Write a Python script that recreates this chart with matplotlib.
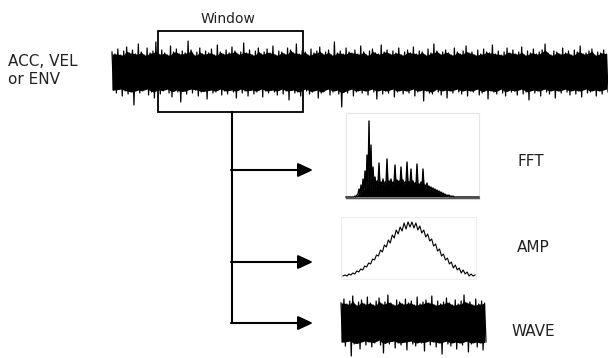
import numpy as np
import matplotlib.pyplot as plt
from matplotlib.patches import Rectangle

# Main time signal: peak (upward) and trough (downward) sizes, interleaved
main_top = [20, 18, 23, 17, 21, 25, 19, 22, 18, 28, 20, 17, 24, 19, 21, 30, 18,
            22, 19, 17, 26, 20, 23, 18, 21, 19, 31, 22, 17, 20, 24, 18, 21, 19,
            23, 17, 27, 20, 18, 22, 19, 25, 21, 18, 20, 29, 19, 22, 17, 21, 24,
            18, 20, 23, 19, 26, 17, 21, 20, 18, 24, 22, 19, 28, 18, 21, 20, 17,
            23, 19, 21, 25, 18, 20, 22, 17, 30, 19, 21, 18, 24, 20, 19, 22, 18,
            26, 20, 17, 21, 23, 19, 18, 27, 20, 22, 18, 21, 19, 24, 17, 20, 22,
            19, 25, 18, 21, 20, 17, 23, 19, 28, 21, 18, 20, 22, 19, 17, 24, 20,
            18, 21, 26, 19, 20, 17, 22, 18, 23, 20, 19, 27, 18, 21, 17, 20, 24,
            19, 22, 18, 20, 25, 17, 21, 19, 23, 18, 20, 22, 28, 19, 17, 21, 20,
            18, 24, 19, 21, 17, 22, 20, 26, 18, 19, 21, 23, 17, 20, 19, 22, 18]
main_bot = [18, 21, 17, 24, 19, 22, 20, 33, 18, 21, 19, 17, 23, 20, 26, 18, 22,
            19, 17, 21, 25, 18, 20, 30, 19, 22, 17, 21, 18, 24, 20, 19, 27, 18,
            21, 20, 17, 23, 19, 22, 18, 20, 26, 17, 21, 19, 24, 18, 22, 20, 17,
            25, 19, 21, 18, 20, 23, 17, 22, 19, 28, 18, 21, 20, 24, 17, 19, 22,
            20, 18, 26, 21, 19, 17, 23, 20, 18, 22, 35, 19, 21, 17, 24, 20, 18,
            21, 19, 23, 17, 20, 27, 18, 22, 19, 21, 17, 25, 20, 18, 22, 19, 21,
            17, 24, 20, 18, 29, 19, 21, 22, 17, 20, 23, 18, 26, 19, 21, 17, 20,
            22, 18, 24, 19, 20, 17, 23, 21, 18, 27, 19, 20, 22, 17, 21, 24, 18,
            20, 19, 23, 17, 22, 20, 28, 18, 21, 19, 24, 17, 20, 22, 18, 26, 19,
            21, 17, 20, 23, 18, 22, 19, 25, 17, 21, 20, 18, 24, 19, 22, 17, 20]

# Window wave (small copy of the signal)
wave_top = [20, 24, 19, 22, 27, 18, 21, 23, 19, 26, 20, 18, 22, 25, 19, 21, 28, 20, 18, 23,
            21, 19, 24, 20, 22, 18, 26, 19, 21, 23, 20, 27, 18, 22, 19, 21, 25, 20, 18, 23,
            19, 22, 28, 20, 21, 18, 24, 19, 22, 20]
wave_bot = [19, 23, 18, 33, 21, 20, 26, 18, 22, 19, 24, 20, 17, 22, 30, 19, 21, 18, 25, 20,
            22, 19, 27, 18, 21, 23, 19, 20, 28, 18, 22, 19, 24, 20, 31, 18, 21, 23, 19, 26,
            20, 22, 18, 29, 21, 19, 24, 20, 27, 19]

# FFT spectrum magnitude
fft_vals = [0, 0, 0, 0, 0, 0, 0, 0, 0, 1, 0, 2,
            3, 8, 2, 12, 4, 18, 5, 26,
            6, 42, 10, 76, 8, 52, 6, 30,
            12, 20, 11, 16, 13, 34, 10, 15, 12, 18, 11, 15,
            13, 38, 12, 16, 14, 18, 11, 15, 13, 32, 12, 17, 14, 16, 11, 30, 13, 17, 12, 15,
            14, 35, 12, 15, 13, 28, 11, 16, 12, 14, 11, 33, 10, 13, 11, 15, 9, 28, 10, 12,
            9, 14, 8, 11, 8, 10, 7, 9, 6, 8, 5, 7, 5, 6, 4, 5, 3, 4, 2, 3,
            1, 2, 1, 2, 0, 1, 0, 1, 0, 0, 0, 0, 0, 0, 0, 0, 0, 0, 0, 0,
            0, 0, 0, 0, 0, 0, 0, 0, 0, 0, 0, 0, 0, 0]

# Amplitude (bell shaped, noisy)
amp_vals = [1, 2, 1, 3, 2, 4, 3, 6, 5, 8, 7, 11, 10, 14, 13, 18, 17, 22, 21, 27,
            25, 32, 30, 37, 34, 42, 39, 47, 43, 50, 46, 54, 48, 55, 50,
            55, 49, 54, 47, 51, 44, 47, 40, 43, 36, 38, 31, 33, 26, 28, 21, 23,
            17, 19, 13, 15, 9, 12, 7, 9, 4, 7, 3, 5, 1, 3, 1, 2]


def draw_band(x0, x1, yc, top, bot, lw=0.9):
    # solid core (lower of neighbouring peaks) with the trace on top for the spikes
    n = min(len(top), len(bot))
    t = np.array(top[:n], dtype=float)
    b = np.array(bot[:n], dtype=float)
    xs = np.linspace(x0, x1, 2 * n)
    xt, xb = xs[0::2], xs[1::2]
    t_core = np.minimum(t, np.roll(t, 1))
    b_core = np.minimum(b, np.roll(b, 1))
    ax.fill_between(xt, yc - t_core, yc + np.interp(xt, xb, b_core), color='black', lw=0)
    y = np.empty(2 * n)
    y[0::2] = yc - t
    y[1::2] = yc + b
    ax.plot(xs, y, color='black', lw=lw)


fig = plt.figure(figsize=(6.08, 3.58), dpi=100)
ax = fig.add_axes([0, 0, 1, 1])
ax.set_xlim(0, 608)
ax.set_ylim(358, 0)
ax.axis('off')

# main signal
draw_band(112, 608, 72, main_top, main_bot)

# window box and connector
ax.add_patch(Rectangle((158, 31), 145, 81, fill=False, lw=1.3, ec='black', zorder=5))
ax.plot([232, 232], [112, 323], color='black', lw=1.5)
for yy in [170, 262, 323]:
    ax.annotate('', xy=(313, yy), xytext=(231, yy),
                arrowprops=dict(arrowstyle='-|>,head_length=0.6,head_width=0.28',
                                color='black', lw=1.5, mutation_scale=15,
                                shrinkA=0, shrinkB=0))

# FFT panel
fx = np.linspace(346, 479, len(fft_vals))
fy = 197 - np.array(fft_vals)
ax.add_patch(Rectangle((346, 113), 133, 86, fill=False, lw=0.8, ec='#e6e6e6'))
ax.fill_between(fx, 197, fy, color='black', lw=0)
ax.plot(fx, fy, color='black', lw=1.0)
ax.plot([346, 479], [198, 198], color='#555555', lw=0.9)

# AMP panel
ax.add_patch(Rectangle((341, 217), 135, 62, fill=False, lw=0.8, ec='#eeeeee'))
ax.plot(np.linspace(343, 475, len(amp_vals)), 277 - np.array(amp_vals), color='black', lw=0.8)

# WAVE panel
draw_band(341, 486, 323, wave_top, wave_bot)

# labels
lab = dict(color='#222222', fontsize=11, va='center')
ax.text(8, 62, 'ACC, VEL', ha='left', **lab)
ax.text(8, 79, 'or ENV', ha='left', **lab)
ax.text(228, 19, 'Window', ha='center', color='#222222', fontsize=10, va='center')
ax.text(531, 162, 'FFT', ha='center', **lab)
ax.text(533, 248, 'AMP', ha='center', **lab)
ax.text(533, 331, 'WAVE', ha='center', **lab)

fig.savefig('out.png', dpi=100)
